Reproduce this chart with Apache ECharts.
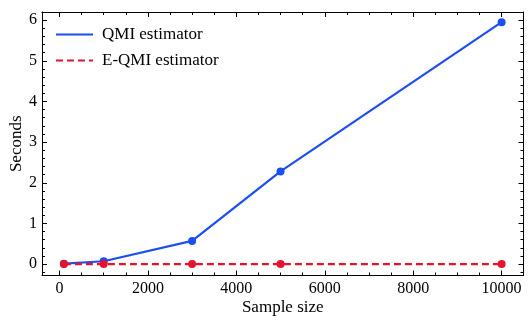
<!DOCTYPE html>
<html>
<head>
<meta charset="utf-8">
<script src="https://cdn.jsdelivr.net/npm/echarts@6/dist/echarts.min.js"></script>
<style>
html,body{margin:0;padding:0;background:#fff;}
#c{width:529px;height:320px;}
</style>
</head>
<body>
<div id="c"></div>
<script>
var sampleSizes = [100, 1000, 3000, 5000, 10000];
var qmiSeconds = [0.01, 0.07, 0.57, 2.28, 5.95];
var eqmiSeconds = [0.0, 0.0, 0.0, 0.0, 0.0];
var xTickLabels = [0, 2000, 4000, 6000, 8000, 10000];
var yTickLabels = [0, 1, 2, 3, 4, 5, 6];

var X_MIN = -395, X_MAX = 10495, Y_MIN = -0.28, Y_MAX = 6.2;
var FONT = '"Liberation Serif", "Times New Roman", serif';

function minors(major, parts, lo, hi) {
  var step = major[1] - major[0];
  var out = [];
  for (var k = -parts; k <= (major.length) * parts; k++) {
    if (k % parts === 0) continue;
    var r = Math.round((major[0] + k * step / parts) * 1000) / 1000;
    if (r > lo && r < hi) out.push(r);
  }
  return out;
}
var xMinor = minors(xTickLabels, 4, X_MIN, X_MAX);
var yMinor = minors(yTickLabels, 5, Y_MIN, Y_MAX);

function fmt(v) { return String(v); }

function xAx(pos, ticks, len, labels, line) {
  var a = {
    type: 'value', position: pos, min: X_MIN, max: X_MAX, gridIndex: 0,
    splitLine: {show: false},
    axisLine: {show: line, onZero: false, lineStyle: {color: '#000', width: 1}},
    axisTick: {show: true, inside: true, length: len, customValues: ticks, lineStyle: {color: '#000', width: 1}},
    axisLabel: {show: labels, customValues: xTickLabels, formatter: fmt, color: '#000', fontFamily: FONT, fontSize: 16, margin: 5}
  };
  if (labels) {
    a.name = 'Sample size'; a.nameLocation = 'middle'; a.nameGap = 24; a.nameMoveOverlap = false;
    a.nameTextStyle = {color: '#000', fontFamily: FONT, fontSize: 17};
  }
  return a;
}
function yAx(pos, ticks, len, labels, line) {
  var a = {
    type: 'value', position: pos, min: Y_MIN, max: Y_MAX, gridIndex: 0,
    splitLine: {show: false},
    axisLine: {show: line, onZero: false, lineStyle: {color: '#000', width: 1}},
    axisTick: {show: true, inside: true, length: len, customValues: ticks, lineStyle: {color: '#000', width: 1}},
    axisLabel: {show: labels, customValues: yTickLabels, formatter: fmt, color: '#000', fontFamily: FONT, fontSize: 16, margin: 5}
  };
  if (labels) {
    a.name = 'Seconds'; a.nameLocation = 'middle'; a.nameGap = 17; a.nameRotate = 90; a.nameMoveOverlap = false;
    a.nameTextStyle = {color: '#000', fontFamily: FONT, fontSize: 17};
  }
  return a;
}

var chart = echarts.init(document.getElementById('c'), null, {renderer: 'canvas'});
chart.setOption({
  animation: false,
  backgroundColor: '#fff',
  grid: {left: 42, right: 5.5, top: 12, bottom: 44.5, containLabel: false, outerBoundsMode: 'none'},
  legend: {
    left: 50, top: 21, orient: 'vertical', itemGap: 9, itemWidth: 37, itemHeight: 17,
    itemStyle: {opacity: 0},
    textStyle: {color: '#000', fontFamily: FONT, fontSize: 17, padding: [0, 0, 0, 4]},
    data: ['QMI estimator', 'E-QMI estimator']
  },
  xAxis: [
    xAx('bottom', xTickLabels, 5, true, true),
    xAx('bottom', xMinor, 3, false, false),
    xAx('top', xTickLabels, 5, false, true),
    xAx('top', xMinor, 3, false, false)
  ],
  yAxis: [
    yAx('left', yTickLabels, 5, true, true),
    yAx('left', yMinor, 3, false, false),
    yAx('right', yTickLabels, 5, false, true),
    yAx('right', yMinor, 3, false, false)
  ],
  series: [
    {
      name: 'QMI estimator', type: 'line', xAxisIndex: 0, yAxisIndex: 0,
      data: sampleSizes.map(function (x, i) { return [x, qmiSeconds[i]]; }),
      symbol: 'circle', symbolSize: 8,
      lineStyle: {color: '#1c4ff0', width: 2.2},
      itemStyle: {color: '#1c4ff0'}, z: 2
    },
    {
      name: 'E-QMI estimator', type: 'line', xAxisIndex: 0, yAxisIndex: 0,
      data: sampleSizes.map(function (x, i) { return [x, eqmiSeconds[i]]; }),
      symbol: 'circle', symbolSize: 8,
      lineStyle: {color: '#e5132e', width: 2.2, type: [7, 4]},
      itemStyle: {color: '#e5132e'}, z: 3
    }
  ]
});
</script>
</body>
</html>
